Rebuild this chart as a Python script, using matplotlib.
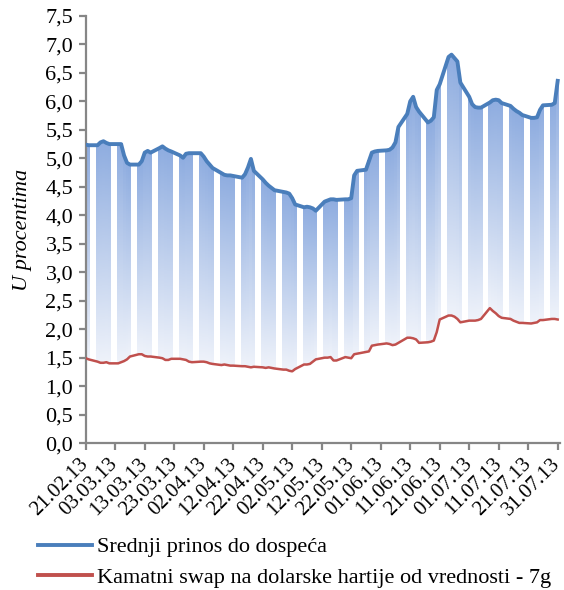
import numpy as np
import pandas as pd
import matplotlib
matplotlib.use('Agg')
import matplotlib.pyplot as plt
import matplotlib.dates as mdates
from matplotlib.colors import LinearSegmentedColormap
from matplotlib.lines import Line2D

# business days shown on the chart
dates = pd.bdate_range('2013-02-21', '2013-07-31')

# Srednji prinos do dospeca (%)
prinos = [5.24, 5.23,
          5.23, 5.28, 5.30, 5.27, 5.25,
          5.25, 5.25, 5.05, 4.92, 4.89,
          4.89, 4.95, 5.10, 5.13, 5.10,
          5.18, 5.21, 5.17, 5.14, 5.12,
          5.05, 5.01, 5.08, 5.09, 5.09,
          5.09, 5.03, 4.95, 4.89, 4.83,
          4.74, 4.71, 4.70, 4.70, 4.69,
          4.66, 4.72, 4.84, 4.99, 4.78,
          4.63, 4.57, 4.52, 4.48, 4.44,
          4.41, 4.40, 4.38, 4.30, 4.19,
          4.14, 4.15, 4.14, 4.12, 4.08,
          4.24, 4.26, 4.28, 4.28, 4.27,
          4.28, 4.28, 4.30, 4.70, 4.78,
          4.80, 4.95, 5.10, 5.12, 5.13,
          5.14, 5.15, 5.19, 5.28, 5.55,
          5.78, 6.00, 6.08, 5.90, 5.82,
          5.63, 5.66, 5.72, 6.20, 6.30,
          6.78, 6.82, 6.76, 6.70, 6.33,
          6.08, 5.95, 5.90, 5.89, 5.89,
          5.98, 6.02, 6.03, 6.02, 5.97,
          5.92, 5.87, 5.83, 5.80, 5.76,
          5.71, 5.71, 5.72, 5.85, 5.93,
          5.94, 5.97, 6.36]

# Kamatni swap na dolarske hartije od vrednosti - 7g (%)
swap = [1.49, 1.47,
        1.43, 1.41, 1.41, 1.42, 1.40,
        1.40, 1.42, 1.44, 1.47, 1.52,
        1.56, 1.56, 1.53, 1.52, 1.52,
        1.50, 1.49, 1.46, 1.46, 1.48,
        1.48, 1.47, 1.46, 1.43, 1.42,
        1.43, 1.43, 1.42, 1.40, 1.39,
        1.37, 1.38, 1.37, 1.36, 1.36,
        1.35, 1.35, 1.34, 1.33, 1.34,
        1.33, 1.32, 1.33, 1.32, 1.31,
        1.29, 1.29, 1.27, 1.26, 1.30,
        1.38, 1.38, 1.39, 1.43, 1.47,
        1.50, 1.50, 1.51, 1.45, 1.45,
        1.51, 1.50, 1.49, 1.56, 1.57,
        1.60, 1.61, 1.71, 1.72, 1.73,
        1.75, 1.74, 1.72, 1.73, 1.76,
        1.85, 1.85, 1.84, 1.82, 1.76,
        1.77, 1.78, 1.80, 1.95, 2.17,
        2.24, 2.24, 2.22, 2.18, 2.12,
        2.15, 2.15, 2.15, 2.16, 2.18,
        2.37, 2.32, 2.28, 2.23, 2.20,
        2.18, 2.15, 2.13, 2.11, 2.11,
        2.10, 2.11, 2.12, 2.16, 2.16,
        2.18, 2.18, 2.17]

tick_dates = pd.date_range('2013-02-21', '2013-07-31', freq='10D')
yticks = np.arange(0, 7.51, 0.5)

labels = ['Srednji prinos do dospeća',
          'Kamatni swap na dolarske hartije od vrednosti - 7g']
blue = '#4a7ebb'
red = '#c0504d'
axis_col = '#868686'

plt.rcParams['font.family'] = 'Liberation Serif'
fig = plt.figure(figsize=(5.64, 5.90), dpi=100)
ax = fig.add_axes([0.152, 0.249, 0.841, 0.724])

x = mdates.date2num(dates)

# gradient up-down bars between the two series
cmap = LinearSegmentedColormap.from_list('bars', ['#eef2fa', '#8fade0'])
grad = np.linspace(0, 1, 64).reshape(-1, 1)
for xi, lo, hi in zip(x, swap, prinos):
    ax.imshow(grad, extent=(xi - 0.5, xi + 0.5, lo, hi), origin='lower',
              cmap=cmap, aspect='auto', interpolation='bilinear', zorder=1)

ax.plot(x, prinos, color=blue, lw=2.8, zorder=3, solid_joinstyle='round')
ax.plot(x, swap, color=red, lw=1.8, zorder=3)

ax.set_xlim(x[0], x[-1] + 0.8)
ax.set_ylim(0, 7.5)
ax.set_yticks(yticks)
ax.set_yticklabels([f'{v:.1f}'.replace('.', ',') for v in yticks])
ax.set_xticks(mdates.date2num(tick_dates))
ax.set_xticklabels([d.strftime('%d.%m.%y') for d in tick_dates],
                   rotation=45, ha='right', va='center', rotation_mode='anchor')

for s in ['top', 'right']:
    ax.spines[s].set_visible(False)
for s in ['left', 'bottom']:
    ax.spines[s].set_color(axis_col)
    ax.spines[s].set_linewidth(1.6)
ax.tick_params(axis='both', direction='out', length=5, width=1.6,
               color=axis_col, labelcolor='black')
ax.tick_params(axis='y', labelsize=16, pad=4)
ax.tick_params(axis='x', labelsize=15, pad=8)

ax.set_ylabel('U procentima', style='italic', fontsize=16, labelpad=10)

handles = [Line2D([], [], color=blue, lw=2.8), Line2D([], [], color=red, lw=2.8)]
fig.legend(handles, labels, loc='upper left', bbox_to_anchor=(0.067, 0.09),
           frameon=False, fontsize=16, handlelength=2.45, handletextpad=0.22,
           labelspacing=0.45, borderaxespad=0, borderpad=0)

fig.savefig('out.png', dpi=100)
